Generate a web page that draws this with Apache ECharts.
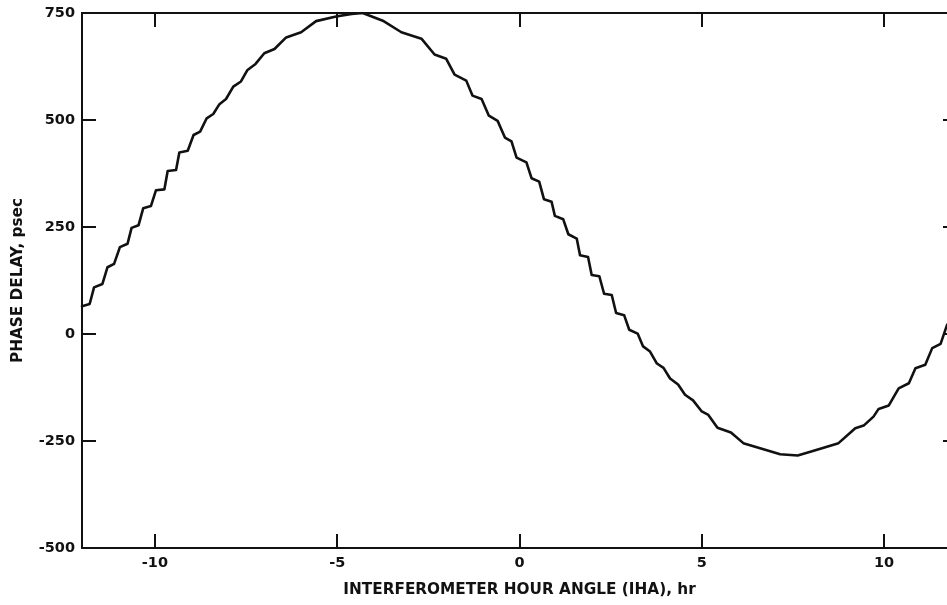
<!DOCTYPE html>
<html>
<head>
<meta charset="utf-8">
<script src="https://cdn.jsdelivr.net/npm/echarts@6/dist/echarts.min.js"></script>
<style>html,body{margin:0;padding:0;background:#fff;overflow:hidden}#c{width:947px;height:605px}</style>
</head>
<body>
<div id="c"></div>
<script>
const hourAngle = [-12.0, -11.79, -11.67, -11.44, -11.30, -11.12, -10.96, -10.75, -10.64, -10.45, -10.32, -10.11, -9.97, -9.74, -9.65, -9.42, -9.33, -9.10, -8.94, -8.76, -8.58, -8.40, -8.23, -8.05, -7.85, -7.64, -7.46, -7.24, -7.00, -6.72, -6.40, -5.99, -5.58, -5.03, -4.6, -4.30, -3.75, -3.24, -2.69, -2.33, -2.01, -1.78, -1.46, -1.29, -1.04, -0.84, -0.60, -0.40, -0.22, -0.08, 0.19, 0.33, 0.54, 0.67, 0.88, 0.97, 1.20, 1.34, 1.57, 1.66, 1.88, 1.98, 2.19, 2.32, 2.53, 2.65, 2.87, 3.01, 3.24, 3.39, 3.58, 3.77, 3.95, 4.13, 4.35, 4.54, 4.76, 5.00, 5.18, 5.43, 5.80, 6.14, 6.60, 7.15, 7.63, 8.07, 8.75, 9.21, 9.44, 9.71, 9.85, 10.13, 10.40, 10.68, 10.86, 11.13, 11.32, 11.55, 11.73];
const phaseDelay = [65, 70, 109, 117, 156, 164, 203, 211, 248, 254, 294, 299, 336, 338, 381, 383, 424, 428, 465, 473, 504, 514, 537, 549, 578, 590, 617, 631, 656, 666, 693, 705, 731, 742, 748, 750, 732, 705, 690, 653, 643, 606, 592, 557, 549, 510, 498, 459, 450, 412, 401, 364, 356, 315, 309, 276, 268, 233, 223, 184, 180, 138, 135, 94, 91, 49, 44, 10, 1, -29, -41, -69, -79, -104, -118, -142, -155, -181, -189, -219, -230, -255, -267, -281, -284, -273, -255, -220, -214, -193, -175, -167, -127, -115, -80, -72, -33, -23, 22];
const xTicks = [-10, -5, 0, 5, 10];
const yTicks = [-500, -250, 0, 250, 500, 750];
const xName = 'INTERFEROMETER HOUR ANGLE (IHA), hr';
const yName = 'PHASE DELAY, psec';

const data = hourAngle.map((x, i) => [x, phaseDelay[i]]);
const labelFont = {fontFamily: 'DejaVu Sans', fontSize: 14.5, fontWeight: 'bold', color: '#111'};
const nameFont = {fontFamily: 'DejaVu Sans', fontSize: 15.3, fontWeight: 'bold', color: '#111'};
const lineSt = {color: '#111', width: 2};

const chart = echarts.init(document.getElementById('c'), null, {renderer: 'canvas'});
chart.setOption({
  animation: false,
  backgroundColor: '#fff',
  grid: {left: 82, top: 13, width: 875, height: 535, containLabel: false, outerBoundsMode: 'none'},
  xAxis: [{
    type: 'value', min: -12, max: 12, position: 'bottom',
    name: xName, nameLocation: 'middle', nameGap: 35,
    nameTextStyle: nameFont,
    axisLine: {show: true, onZero: false, lineStyle: lineSt},
    axisTick: {show: true, inside: true, length: 14, lineStyle: lineSt, customValues: xTicks},
    axisLabel: Object.assign({margin: 8, customValues: xTicks}, labelFont),
    splitLine: {show: false}
  }, {
    type: 'value', min: -12, max: 12, position: 'top',
    axisLine: {show: true, onZero: false, lineStyle: lineSt},
    axisTick: {show: true, inside: true, length: 14, lineStyle: lineSt, customValues: xTicks},
    axisLabel: {show: false},
    splitLine: {show: false}
  }],
  yAxis: [{
    type: 'value', min: -500, max: 750, interval: 250, position: 'left',
    name: yName, nameLocation: 'middle', nameGap: 56,
    nameTextStyle: nameFont,
    axisLine: {show: true, onZero: false, lineStyle: lineSt},
    axisTick: {show: true, inside: true, length: 14, lineStyle: lineSt},
    axisLabel: Object.assign({margin: 7, customValues: yTicks}, labelFont),
    splitLine: {show: false}
  }, {
    type: 'value', min: -500, max: 750, interval: 250, position: 'right',
    axisLine: {show: true, onZero: false, lineStyle: lineSt},
    axisTick: {show: true, inside: true, length: 14, lineStyle: lineSt},
    axisLabel: {show: false},
    splitLine: {show: false}
  }],
  series: [{
    type: 'line', xAxisIndex: 0, yAxisIndex: 0, data: data,
    showSymbol: false, symbol: 'none', smooth: false, clip: true,
    lineStyle: {color: '#111', width: 2.6, join: 'round', cap: 'round'}
  }]
});
</script>
</body>
</html>
